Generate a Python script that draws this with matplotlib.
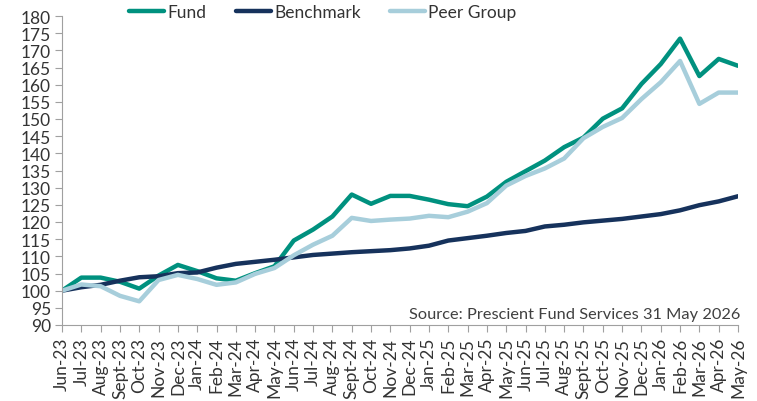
import matplotlib.pyplot as plt
import numpy as np

plt.rcParams['font.family'] = ['Lato', 'DejaVu Sans']

months = ['Jun-23', 'Jul-23', 'Aug-23', 'Sept-23', 'Oct-23', 'Nov-23', 'Dec-23',
          'Jan-24', 'Feb-24', 'Mar-24', 'Apr-24', 'May-24', 'Jun-24', 'Jul-24',
          'Aug-24', 'Sept-24', 'Oct-24', 'Nov-24', 'Dec-24', 'Jan-25', 'Feb-25',
          'Mar-25', 'Apr-25', 'May-25', 'Jun-25', 'Jul-25', 'Aug-25', 'Sept-25',
          'Oct-25', 'Nov-25', 'Dec-25', 'Jan-26', 'Feb-26', 'Mar-26', 'Apr-26',
          'May-26']

fund = [100, 103.8, 103.8, 102.6, 100.6, 104.4, 107.5, 105.7, 103.6, 102.9,
        105.1, 107.1, 114.6, 117.8, 121.6, 128.0, 125.3, 127.6, 127.6, 126.5,
        125.2, 124.6, 127.4, 131.7, 134.8, 137.9, 141.8, 144.6, 150.1, 153.1,
        160.2, 166.0, 173.4, 162.5, 167.5, 165.5]

benchmark = [100, 101.0, 101.7, 102.9, 103.9, 104.2, 105.1, 105.3, 106.7, 107.8,
             108.4, 109.0, 109.7, 110.4, 110.8, 111.2, 111.5, 111.8, 112.3, 113.1,
             114.6, 115.3, 116.0, 116.8, 117.4, 118.7, 119.2, 119.9, 120.4, 120.9,
             121.6, 122.3, 123.4, 124.9, 126.0, 127.5]

peer = [100, 101.8, 101.3, 98.5, 96.9, 103.1, 104.6, 103.4, 101.7, 102.4,
        104.9, 106.6, 110.3, 113.4, 116.0, 121.2, 120.3, 120.7, 121.0, 121.8,
        121.4, 123.0, 125.5, 130.6, 133.4, 135.6, 138.5, 144.4, 147.7, 150.3,
        155.8, 160.7, 166.9, 154.4, 157.7, 157.7]

fig = plt.figure(figsize=(7.57, 4.02), dpi=100)
ax = fig.add_axes([62/757, 1-326/402, 676/757, (326-17)/402])

x = np.arange(len(months))
ax.plot(x, fund, color='#00917f', lw=3.2, label='Fund', solid_capstyle='round')
ax.plot(x, benchmark, color='#16325c', lw=3.2, label='Benchmark', solid_capstyle='round')
ax.plot(x, peer, color='#a7cedb', lw=3.2, label='Peer Group', solid_capstyle='round')

ax.set_xlim(0, len(months)-1)
ax.set_ylim(90, 180)
ax.set_yticks(np.arange(90, 181, 5))
ax.set_xticks(x)
ax.set_xticklabels(months, rotation=90)

for s in ['top', 'right']:
    ax.spines[s].set_visible(False)
for s in ['left', 'bottom']:
    ax.spines[s].set_color('#a0a0a0')
ax.tick_params(axis='both', colors='#a0a0a0', labelcolor='#333333', labelsize=12.5, length=5)
ax.tick_params(axis='y', pad=3)

ax.text(len(months)-1+0.1, 91.3, 'Source: Prescient Fund Services 31 May 2026',
        ha='right', va='bottom', fontsize=11.8, color='#404040')

leg = ax.legend(loc='center', bbox_to_anchor=(323/757, 1-13/402), bbox_transform=fig.transFigure,
                ncol=3, frameon=False, fontsize=12.5, handlelength=2.0, handletextpad=0.2,
                columnspacing=1.7)
for t in leg.get_texts():
    t.set_color('#333333')

fig.savefig('out.png', dpi=100)
